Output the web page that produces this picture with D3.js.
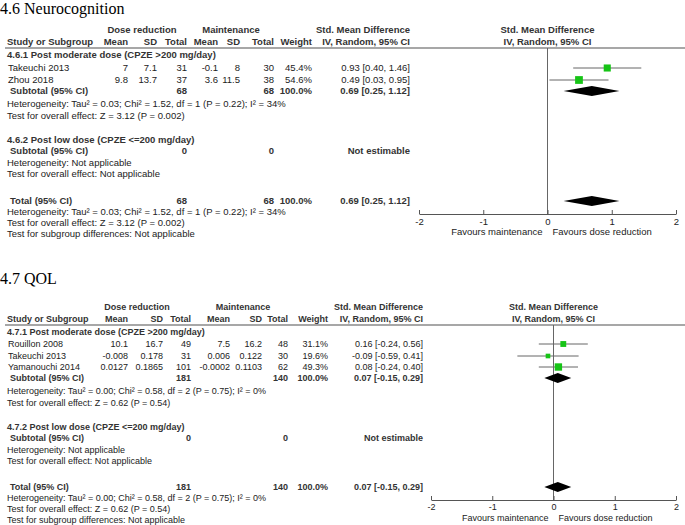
<!DOCTYPE html>
<html lang="en">
<head>
<meta charset="utf-8">
<title>Forest plots</title>
<script src="https://cdn.jsdelivr.net/npm/d3@7"></script>
<style>
    body { margin: 0; background: #fff; }
    svg text { font-family: Arial, "Liberation Sans", sans-serif; font-size: 9.5px; fill: #222; }
    svg text.b { font-weight: bold; fill: #333; }
    svg text.title { font-family: "Times New Roman", "Liberation Serif", serif; font-size: 16px; fill: #000; }
</style>
</head>
<body>
<svg id="chart" width="685" height="525"></svg>
<script>
    // ---- 4.6 Neurocognition ----
    var neuroStudies = ["Takeuchi 2013", "Zhou 2018"];
    var neuroDrMean = [7, 9.8], neuroDrSD = [7.1, 13.7], neuroDrN = [31, 37];
    var neuroMtMean = [-0.1, 3.6], neuroMtSD = [8, 11.5], neuroMtN = [30, 38];
    var neuroWeight = [45.4, 54.6];
    var neuroEst = [0.93, 0.49], neuroLo = [0.40, 0.03], neuroHi = [1.46, 0.95];
    var neuroPooled = [0.69, 0.25, 1.12];   // est, lo, hi
    var neuroTotals = [68, 68];
    var neuroHet = "Heterogeneity: Tau\u00b2 = 0.03; Chi\u00b2 = 1.52, df = 1 (P = 0.22); I\u00b2 = 34%";
    var neuroZ = "Test for overall effect: Z = 3.12 (P = 0.002)";

    // ---- 4.7 QOL ----
    var qolStudies = ["Rouillon 2008", "Takeuchi 2013", "Yamanouchi 2014"];
    var qolDrMean = [10.1, -0.008, 0.0127], qolDrSD = [16.7, 0.178, 0.1865], qolDrN = [49, 31, 101];
    var qolMtMean = [7.5, 0.006, -0.0002], qolMtSD = [16.2, 0.122, 0.1103], qolMtN = [48, 30, 62];
    var qolWeight = [31.1, 19.6, 49.3];
    var qolEst = [0.16, -0.09, 0.08], qolLo = [-0.24, -0.59, -0.24], qolHi = [0.56, 0.41, 0.40];
    var qolPooled = [0.07, -0.15, 0.29];
    var qolTotals = [181, 140];
    var qolHet = "Heterogeneity: Tau\u00b2 = 0.00; Chi\u00b2 = 0.58, df = 2 (P = 0.75); I\u00b2 = 0%";
    var qolZ = "Test for overall effect: Z = 0.62 (P = 0.54)";

    var subgroups = ["Post moderate dose (CPZE >200 mg/day)", "Post low dose (CPZE <=200 mg/day)"];
    var axisTicks = [-2, -1, 0, 1, 2];
    var favours = ["Favours maintenance", "Favours dose reduction"];

    var svg = d3.select("#chart");

    var ci = (e, l, h) => e.toFixed(2) + " [" + l.toFixed(2) + ", " + h.toFixed(2) + "]";

    const drawPanel = (P, L) => {
        var g = svg.append("g");
        var x = d3.scaleLinear().domain([-2, 2]).range(L.plot);
        var sz = d3.scaleSqrt().domain([0, 100]).range([0, 10.5]);
        var C = L.cols;

        const txt = (px, py, s, anchor, bold) => g.append("text")
            .attr("x", px).attr("y", py).attr("dy", "0.35em")
            .attr("text-anchor", anchor || "start")
            .attr("class", bold ? "b" : null)
            .style("font-size", L.fs + "px")
            .text(s);

        g.append("text").attr("class", "title").attr("x", 0).attr("y", L.title).attr("dy", "0.35em").text(P.title);

        // header
        txt(L.grpDR, L.h1, "Dose reduction", "middle", true);
        txt(L.grpMt, L.h1, "Maintenance", "middle", true);
        txt(C.ci, L.h1, "Std. Mean Difference", "end", true);
        txt(x(0), L.h1, "Std. Mean Difference", "middle", true);
        txt(7, L.h2, "Study or Subgroup", "start", true);
        ["Mean", "SD", "Total", "Mean", "SD", "Total", "Weight"].forEach((h, i) =>
            txt(C.num[i], L.h2, h, "end", true));
        txt(C.ci, L.h2, "IV, Random, 95% CI", "end", true);
        txt(x(0), L.h2, "IV, Random, 95% CI", "middle", true);

        g.append("line").attr("x1", 5).attr("x2", 685).attr("y1", L.line).attr("y2", L.line)
            .attr("stroke", "#8a8a8a").attr("stroke-width", 1.6);

        // zero line
        g.append("line").attr("x1", x(0)).attr("x2", x(0)).attr("y1", L.line).attr("y2", L.axis)
            .attr("stroke", "#666").attr("stroke-width", 1);

        // subgroup 1
        txt(7, L.sg1, P.code + ".1 " + subgroups[0], "start", true);
        P.studies.forEach((s, i) => {
            var yy = L.studies[i];
            txt(8, yy, s);
            [P.drMean[i], P.drSD[i], P.drN[i], P.mtMean[i], P.mtSD[i], P.mtN[i]].forEach((v, j) =>
                txt(C.num[j], yy, String(v), "end"));
            txt(C.num[6], yy, P.weight[i].toFixed(1) + "%", "end");
            txt(C.ci, yy, ci(P.est[i], P.lo[i], P.hi[i]), "end");
            g.append("line").attr("x1", x(P.lo[i])).attr("x2", x(P.hi[i]))
                .attr("y1", yy).attr("y2", yy).attr("stroke", "#666").attr("stroke-width", 1);
            var s2 = sz(P.weight[i]);
            g.append("rect").attr("x", x(P.est[i]) - s2 / 2).attr("y", yy - s2 / 2)
                .attr("width", s2).attr("height", s2).attr("fill", "#16c416");
        });

        const diamond = (yy, p) => g.append("path")
            .attr("d", "M" + x(p[1]) + "," + yy + "L" + x(p[0]) + "," + (yy - 5) +
                "L" + x(p[2]) + "," + yy + "L" + x(p[0]) + "," + (yy + 5) + "Z")
            .attr("fill", "#000");

        const totalsRow = (yy, label) => {
            txt(10, yy, label, "start", true);
            txt(C.num[2], yy, String(P.totals[0]), "end", true);
            txt(C.num[5], yy, String(P.totals[1]), "end", true);
            txt(C.num[6], yy, "100.0%", "end", true);
            txt(C.ci, yy, ci(P.pooled[0], P.pooled[1], P.pooled[2]), "end", true);
            diamond(yy, P.pooled);
        };

        totalsRow(L.sub1, "Subtotal (95% CI)");
        txt(7, L.het1, P.het);
        txt(7, L.z1, P.z);

        // subgroup 2 (empty)
        txt(7, L.sg2, P.code + ".2 " + subgroups[1], "start", true);
        txt(10, L.sub2, "Subtotal (95% CI)", "start", true);
        txt(C.num[2], L.sub2, "0", "end", true);
        txt(C.num[5], L.sub2, "0", "end", true);
        txt(C.ci, L.sub2, "Not estimable", "end", true);
        txt(7, L.het2, "Heterogeneity: Not applicable");
        txt(7, L.z2, "Test for overall effect: Not applicable");

        // overall
        totalsRow(L.total, "Total (95% CI)");
        txt(7, L.het3, P.het);
        txt(7, L.z3, P.z);
        txt(7, L.diff, "Test for subgroup differences: Not applicable");

        // axis
        var ax = g.append("g").attr("transform", "translate(0," + L.axis + ")")
            .call(d3.axisBottom(x).tickValues(axisTicks).tickSizeInner(-4).tickSizeOuter(0)
                .tickPadding(4).tickFormat(d => String(d)));
        ax.select(".domain").attr("stroke", "#555");
        ax.selectAll(".tick line").attr("stroke", "#555");
        ax.selectAll("text").attr("font-size", null).attr("font-family", null).attr("fill", null)
            .style("font-size", L.fs + "px");
        txt(x(0) - 5, L.axis + 18, favours[0], "end");
        txt(x(0) + 5, L.axis + 18, favours[1], "start");
    };

    drawPanel({
        title: "4.6 Neurocognition", code: "4.6",
        studies: neuroStudies, drMean: neuroDrMean, drSD: neuroDrSD, drN: neuroDrN,
        mtMean: neuroMtMean, mtSD: neuroMtSD, mtN: neuroMtN, weight: neuroWeight,
        est: neuroEst, lo: neuroLo, hi: neuroHi, pooled: neuroPooled, totals: neuroTotals,
        het: neuroHet, z: neuroZ
    }, {
        fs: 9.5,
        plot: [419, 676], cols: { num: [128, 157, 187, 218, 240, 274, 312], ci: 410 },
        grpDR: 142, grpMt: 231,
        title: 8, h1: 30, h2: 42, line: 48, sg1: 55, studies: [68, 80], sub1: 91,
        het1: 104, z1: 116, sg2: 140, sub2: 151, het2: 163, z2: 174,
        total: 201, het3: 212, z3: 223, diff: 234, axis: 214
    });

    drawPanel({
        title: "4.7 QOL", code: "4.7",
        studies: qolStudies, drMean: qolDrMean, drSD: qolDrSD, drN: qolDrN,
        mtMean: qolMtMean, mtSD: qolMtSD, mtN: qolMtN, weight: qolWeight,
        est: qolEst, lo: qolLo, hi: qolHi, pooled: qolPooled, totals: qolTotals,
        het: qolHet, z: qolZ
    }, {
        fs: 9,
        plot: [431, 676], cols: { num: [128, 163, 191, 230, 262, 288, 328], ci: 423 },
        grpDR: 137, grpMt: 243,
        title: 278, h1: 307, h2: 319, line: 325, sg1: 332, studies: [344, 356, 367], sub1: 378,
        het1: 391, z1: 403, sg2: 427, sub2: 438, het2: 450, z2: 461,
        total: 487, het3: 498, z3: 509, diff: 520, axis: 500
    });
</script>
</body>
</html>
